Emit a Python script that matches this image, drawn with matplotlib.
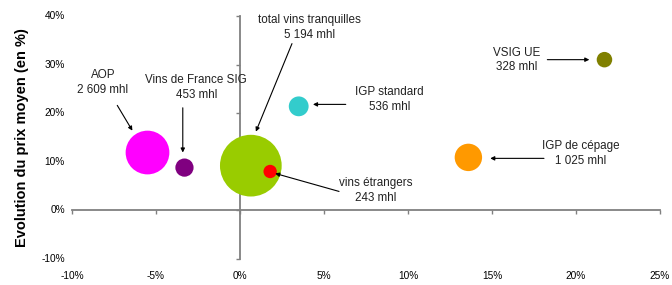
import numpy as np
import matplotlib.pyplot as plt
from matplotlib.transforms import blended_transform_factory

plt.rcParams['font.family'] = ['Liberation Sans', 'DejaVu Sans']

# data: price change (x, %), average price change (y, %), volume (mhl)
names = ['AOP', 'Vins de France SIG', 'total vins tranquilles', 'vins étrangers',
         'IGP standard', 'IGP de cépage', 'VSIG UE']
volume_labels = ['2 609 mhl', '453 mhl', '5 194 mhl', '243 mhl',
                 '536 mhl', '1 025 mhl', '328 mhl']
volumes = [2609, 453, 5194, 243, 536, 1025, 328]
x_vals = [-5.5, -3.3, 0.65, 1.8, 3.5, 13.6, 21.7]
y_vals = [11.9, 8.8, 9.2, 8.0, 21.4, 10.9, 31.0]
colors = ['#FF00FF', '#800080', '#99CC00', '#FF0000', '#33CCCC', '#FF9900', '#808000']

# label centres and arrow (tail, head) in data units
label_pos = [(-8.15, 26.3), (-2.6, 25.3), (4.15, 37.6), (8.1, 4.1),
             (8.9, 22.8), (20.3, 11.7), (16.5, 31.0)]
arrows = [((-7.3, 21.6), (-6.4, 16.4)),
          ((-3.4, 21.1), (-3.4, 11.9)),
          ((3.1, 34.3), (0.95, 16.2)),
          ((5.9, 3.9), (2.1, 7.6)),
          ((6.3, 21.8), (4.35, 21.8)),
          ((18.1, 10.7), (14.9, 10.7)),
          ((18.3, 31.0), (20.8, 31.0))]

x_ticks = [-10, -5, 0, 5, 10, 15, 20, 25]
y_ticks = [-10, 0, 10, 20, 30, 40]

fig = plt.figure(figsize=(6.72, 2.85), dpi=100)
ax = fig.add_axes([0.107, 0.0912, 0.875, 0.853])

# bubble area proportional to volume
sizes = [0.38 * v for v in volumes]
ax.scatter(x_vals, y_vals, s=sizes, c=colors, edgecolors='none', zorder=3)

for (tx, ty), name, vl in zip(label_pos, names, volume_labels):
    ax.text(tx, ty, name + '\n' + vl, ha='center', va='center', fontsize=8.4,
            linespacing=1.25, color='#222222')

for tail, head in arrows:
    ax.annotate('', xy=head, xytext=tail,
                arrowprops=dict(arrowstyle='-|>', color='black', lw=0.8,
                                mutation_scale=6, shrinkA=0, shrinkB=0), zorder=4)

ax.set_xlim(-10, 25)
ax.set_ylim(-10, 40)
ax.set_xticks(x_ticks)
ax.set_yticks(y_ticks)

for side in ['top', 'right']:
    ax.spines[side].set_visible(False)
ax.spines['left'].set_position(('data', 0))
ax.spines['bottom'].set_position(('data', 0))
for side in ['left', 'bottom']:
    ax.spines[side].set_color('#808080')
    ax.spines[side].set_linewidth(1.3)
ax.tick_params(axis='both', direction='out', length=3, width=1, color='#808080',
               labelleft=False, labelbottom=False)

# tick labels at the outer edges of the plot
tr_x = blended_transform_factory(ax.transData, ax.transAxes)
for t in x_ticks:
    ax.text(t, -0.05, f'{t}%', transform=tr_x, ha='center', va='top', fontsize=7.3)
tr_y = blended_transform_factory(ax.transAxes, ax.transData)
for t in y_ticks:
    ax.text(-0.012, t, f'{t}%', transform=tr_y, ha='right', va='center', fontsize=7.3)

fig.text(0.033, 0.517, 'Evolution du prix moyen (en %)', rotation=90, ha='center',
         va='center', fontsize=10.5, fontweight='bold')

fig.savefig('out.png', dpi=100)
